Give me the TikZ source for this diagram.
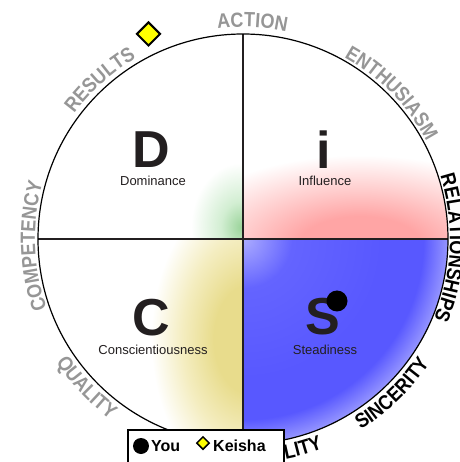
\documentclass[tikz,border=0pt]{standalone}
\usepackage{fontspec}
\setmainfont{Liberation Sans}
\newfontfamily\lblfam{Liberation Sans Bold}[FakeStretch=0.88]
\usetikzlibrary{decorations.text,shapes.geometric}

\definecolor{lblgray}{RGB}{150,150,150}
\definecolor{ink}{RGB}{35,31,32}
\definecolor{sbA}{RGB}{172,172,255}
\definecolor{sbB}{RGB}{100,100,255}
\definecolor{sbC}{RGB}{88,88,255}
\definecolor{sbD}{RGB}{150,150,255}
\definecolor{pkA}{RGB}{255,165,165}
\definecolor{pkB}{RGB}{255,208,208}
\definecolor{ykA}{RGB}{232,220,140}
\definecolor{ykB}{RGB}{244,237,192}
\definecolor{grA}{RGB}{155,212,155}
\definecolor{grB}{RGB}{210,238,210}
\definecolor{kyellow}{RGB}{255,255,0}

% note: the +-25bp square of a shading is fitted to the path's bounding box
\pgfdeclareradialshading{sshade}{\pgfpoint{0bp}{0bp}}{color(0bp)=(sbA); color(6bp)=(sbB); color(17bp)=(sbC); color(22bp)=(sbC); color(25bp)=(sbD); color(50bp)=(sbD)}
\pgfdeclareradialshading{ishade}{\pgfpoint{0bp}{0bp}}{color(0bp)=(pkA); color(8bp)=(pkA); color(16bp)=(pkB); color(25bp)=(white); color(50bp)=(white)}
\pgfdeclareradialshading{cshade}{\pgfpoint{0bp}{0bp}}{color(0bp)=(ykA); color(9bp)=(ykA); color(17bp)=(ykB); color(25bp)=(white); color(50bp)=(white)}
\pgfdeclareradialshading{dshade}{\pgfpoint{0bp}{0bp}}{color(0bp)=(grA); color(10bp)=(grB); color(25bp)=(white); color(50bp)=(white)}

\newcommand\lblfont{\lblfam\fontsize{20.5pt}{20.5pt}\selectfont}
\newcommand\bigletfont{\fontsize{52pt}{52pt}\selectfont\bfseries}
\newcommand\subfont{\fontsize{13pt}{13pt}\selectfont}
\newcommand\legfont{\fontsize{16pt}{16pt}\selectfont\bfseries}

% clockwise label (tops outward)
\newcommand\cwlab[4]{\path[decorate,decoration={text along path,text align=center,text={|\lblfont\color{#3}|#4}}] ({#1+45}:#2pt) arc[start angle={#1+45},end angle={#1-45},radius=#2pt];}
% counterclockwise label (tops inward)
\newcommand\ccwlab[4]{\path[decorate,decoration={text along path,text align=center,text={|\lblfont\color{#3}|#4}}] ({#1-45}:#2pt) arc[start angle={#1-45},end angle={#1+45},radius=#2pt];}

\tikzset{
  quadline/.style={draw=ink,line width=2pt},
  rim/.style={draw=black,line width=1.2pt},
  bigletter/.style={font=\bigletfont,text=ink,inner sep=0pt},
  sublabel/.style={font=\subfont,text=ink,inner sep=0pt},
}

\begin{document}
\begin{tikzpicture}[x=1pt,y=1pt]
\useasboundingbox (-243,-223) rectangle (216,239);
\clip (-243,-223) rectangle (216,239);
\fill[white] (-243,-223) rectangle (216,239);

% quadrant shadings
\begin{scope}
  \clip (0,0) -- (0:205) arc[start angle=0,end angle=-90,radius=205pt] -- cycle;
  \shade[shading=sshade] (0,0) circle[radius=205pt];
\end{scope}
\begin{scope}
  \clip (0,0) -- (0:205) arc[start angle=0,end angle=90,radius=205pt] -- cycle;
  \shade[shading=ishade] (117,-6) ellipse[x radius=190pt,y radius=90pt];
\end{scope}
\begin{scope}
  \clip (0,0) -- (180:205) arc[start angle=180,end angle=270,radius=205pt] -- cycle;
  \shade[shading=cshade] (6,-100) ellipse[x radius=98pt,y radius=150pt];
\end{scope}
\begin{scope}
  \clip (0,0) -- (90:205) arc[start angle=90,end angle=180,radius=205pt] -- cycle;
  \shade[shading=dshade] (-2,12) ellipse[x radius=50pt,y radius=64pt];
\end{scope}

% quadrant lines and rim
\draw[quadline] (180:205) -- (0:205);
\draw[quadline] (90:205) -- (270:205);
\draw[rim] (0,0) circle[radius=205pt];

% labels around the circle
\cwlab{87.5}{212}{lblgray}{ACTION}
\cwlab{44.5}{208}{lblgray}{ENTHUSIASM}
\cwlab{-2.5}{207}{black}{RELATIONSHIPS}
\ccwlab{-46}{224}{black}{SINCERITY}
\ccwlab{-81}{224}{black}{STABILITY}
\ccwlab{-136.5}{224}{lblgray}{QUALITY}
\cwlab{182}{208}{lblgray}{COMPETENCY}
\cwlab{132}{210}{lblgray}{RESULTS}

% quadrant letters
\node[bigletter] (Dlet) at (-92,89) {D};
\node[sublabel] (Dtxt) at (-90,58) {Dominance};
\node[bigletter] (ilet) at (81,89) {i};
\node[sublabel] (itxt) at (82,58) {Influence};
\node[bigletter] (Clet) at (-92,-79) {C};
\node[sublabel] (Ctxt) at (-90,-111) {Conscientiousness};
\node[bigletter] (Slet) at (80,-78) {S};
\node[sublabel] (Stxt) at (82,-111) {Steadiness};

% markers
\node[circle,fill=black,minimum size=21pt,inner sep=0pt] (you) at (94,-62) {};
\node[diamond,draw=black,line width=2pt,fill=kyellow,minimum size=24pt,inner sep=0pt] (keisha) at (-94.5,205) {};

% legend
\node[draw=black,line width=2pt,fill=white,minimum width=156pt,minimum height=60pt,anchor=north west,inner sep=0pt] (legend) at (-116,-190) {};
\node[circle,fill=black,minimum size=16pt,inner sep=0pt] (legyou) at (-102,-207) {};
\node[font=\legfont,anchor=base west,inner sep=0pt] (legyoutxt) at (-92,-212) {You};
\node[diamond,draw=black,line width=1.5pt,fill=kyellow,minimum size=13pt,inner sep=0pt] (legkei) at (-40,-204) {};
\node[font=\legfont,anchor=base west,inner sep=0pt] (legkeitxt) at (-30,-212) {Keisha};
\end{tikzpicture}
\end{document}
